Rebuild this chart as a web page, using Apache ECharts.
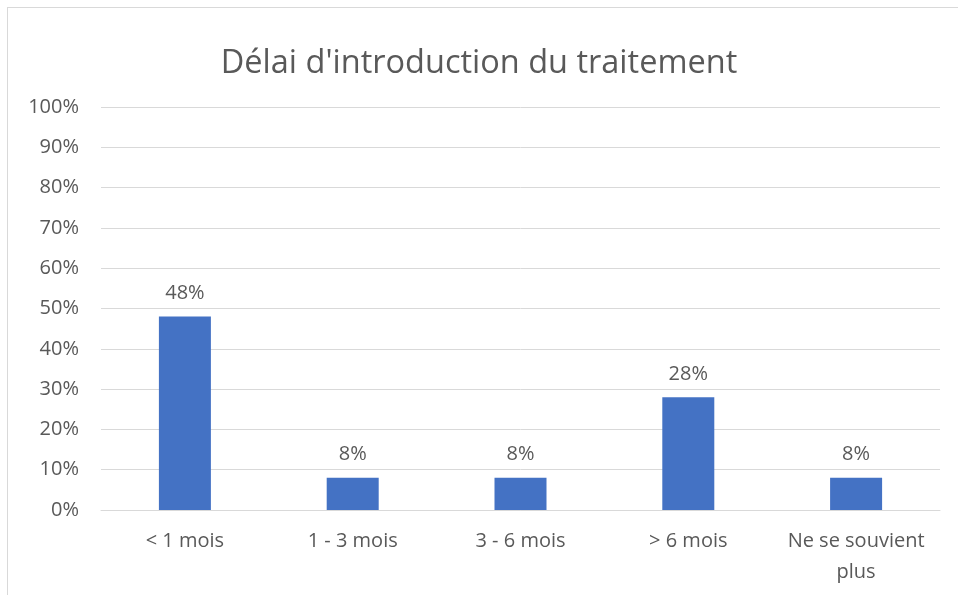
<!DOCTYPE html>
<html>
<head>
<meta charset="utf-8">
<script src="https://cdn.jsdelivr.net/npm/echarts@6/dist/echarts.min.js"></script>
<style>
  html, body { margin: 0; padding: 0; background: #fff; }
  #frame {
    position: absolute; left: 7px; top: 7px; width: 1000px; height: 640px;
    border: 1px solid #d9d9d9; box-sizing: border-box;
  }
  #chart { position: absolute; left: 0; top: 0; width: 958px; height: 595px; }
</style>
</head>
<body>
<div id="frame"></div>
<div id="chart"></div>
<script>
// données du graphique
const categories = ["< 1 mois", "1 - 3 mois", "3 - 6 mois", "> 6 mois", "Ne se souvient\nplus"];
const values = [48, 8, 8, 28, 8];
const titleText = "Délai d'introduction du traitement";

const FONT = "'Open Sans', sans-serif";
const TXT = "#595959";

const myChart = echarts.init(document.getElementById("chart"));
myChart.setOption({
  animation: false,
  title: {
    text: titleText,
    left: "center",
    top: 42,
    textStyle: { color: TXT, fontSize: 32.5, fontWeight: "normal", fontFamily: FONT },
  },
  grid: { left: 101, right: 18, top: 107, bottom: 85 },
  xAxis: {
    type: "category",
    data: categories,
    axisLine: { show: true, lineStyle: { color: "#d9d9d9", width: 1 } },
    axisTick: { show: false },
    axisLabel: {
      color: TXT, fontSize: 20, fontFamily: FONT, margin: 16, lineHeight: 31,
      interval: 0,
    },
  },
  yAxis: {
    type: "value",
    min: 0,
    max: 100,
    interval: 10,
    axisLine: { show: false },
    axisTick: { show: false },
    splitLine: { lineStyle: { color: "#d9d9d9", width: 1 } },
    axisLabel: {
      color: TXT, fontSize: 20, fontFamily: FONT, margin: 22,
      formatter: "{value}%",
    },
  },
  series: [
    {
      type: "bar",
      data: values,
      barWidth: 52,
      itemStyle: { color: "#4472C4" },
      label: {
        show: true,
        position: "top",
        distance: 13,
        formatter: "{c}%",
        color: TXT,
        fontSize: 20,
        fontFamily: FONT,
      },
    },
  ],
});
</script>
</body>
</html>
